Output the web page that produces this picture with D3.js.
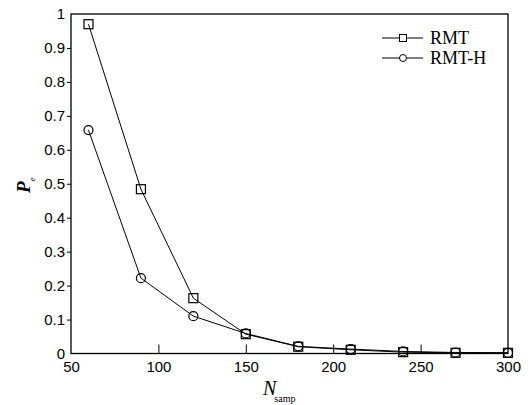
<!DOCTYPE html>
<html>
<head>
<meta charset="utf-8">
<script src="https://cdn.jsdelivr.net/npm/d3@7"></script>
<style>
  body { margin: 0; background: #fff; }
  svg { display: block; }
</style>
</head>
<body>
<div id="chart"></div>
<script>
// sample sizes on x axis
var nSamp = [60, 90, 120, 150, 180, 210, 240, 270, 300];
// error probability for each method
var rmt  = [0.970, 0.484, 0.163, 0.057, 0.020, 0.011, 0.004, 0.002, 0.002];
var rmtH = [0.658, 0.222, 0.110, 0.059, 0.021, 0.013, 0.006, 0.003, 0.002];
var seriesNames = ["RMT", "RMT-H"];
var xTicks = [50, 100, 150, 200, 250, 300];
var yTicks = [0, 0.1, 0.2, 0.3, 0.4, 0.5, 0.6, 0.7, 0.8, 0.9, 1];

var width = 530, height = 405;
var margin = {top: 14, right: 22, bottom: 51.5, left: 71};
var w = width - margin.left - margin.right;
var h = height - margin.top - margin.bottom;

var svg = d3.select("#chart").append("svg")
    .attr("width", width)
    .attr("height", height);

var g = svg.append("g")
    .attr("transform", "translate(" + margin.left + "," + margin.top + ")");

var x = d3.scaleLinear().domain([50, 300]).range([0, w]);
var y = d3.scaleLinear().domain([0, 1]).range([h, 0]);

// frame
g.append("rect")
    .attr("width", w)
    .attr("height", h)
    .style("fill", "none")
    .style("stroke", "#000")
    .style("stroke-width", 1.3);

// x axis, ticks pointing inward
var xAxis = g.append("g")
    .attr("transform", "translate(0," + h + ")")
    .call(d3.axisBottom(x).tickValues(xTicks).tickSizeInner(-9).tickSizeOuter(0).tickPadding(8).tickFormat(d3.format("d")));
xAxis.select(".domain").remove();
xAxis.selectAll(".tick").filter(function(d) { return d === 50 || d === 300; }).select("line").remove();
xAxis.selectAll("text")
    .style("font-family", "Liberation Sans, Arial, sans-serif")
    .style("font-size", "15px")
    .attr("y", 8);

// y axis, ticks pointing outward
var yAxis = g.append("g")
    .call(d3.axisLeft(y).tickValues(yTicks).tickSizeInner(4).tickSizeOuter(0).tickPadding(2).tickFormat(function(d) { return d3.format("")(+d.toFixed(1)); }));
yAxis.select(".domain").remove();
yAxis.selectAll(".tick").filter(function(d) { return d === 0 || d === 1; }).select("line").remove();
yAxis.selectAll("text")
    .style("font-family", "Liberation Sans, Arial, sans-serif")
    .style("font-size", "15px");

// series
var series = [
    {name: seriesNames[0], values: rmt, marker: "square"},
    {name: seriesNames[1], values: rmtH, marker: "circle"}
];

var line = d3.line()
    .x(function(d, i) { return x(nSamp[i]); })
    .y(function(d) { return y(d); });

series.forEach(function(s) {
    g.append("path")
        .attr("d", line(s.values))
        .style("fill", "none")
        .style("stroke", "#000")
        .style("stroke-width", 1);

    s.values.forEach(function(v, i) {
        if (s.marker === "square") {
            g.append("rect")
                .attr("x", x(nSamp[i]) - 4.5)
                .attr("y", y(v) - 4.5)
                .attr("width", 9)
                .attr("height", 9)
                .style("fill", "none")
                .style("stroke", "#000")
                .style("stroke-width", 1.2);
        } else {
            g.append("circle")
                .attr("cx", x(nSamp[i]))
                .attr("cy", y(v))
                .attr("r", 4.5)
                .style("fill", "none")
                .style("stroke", "#000")
                .style("stroke-width", 1.2);
        }
    });
});

// legend
var legend = svg.selectAll(".legend")
    .data(series)
    .enter().append("g")
    .attr("class", "legend")
    .attr("transform", function(d, i) { return "translate(382," + (38 + i * 20) + ")"; });

legend.append("line")
    .attr("x1", 0).attr("x2", 41)
    .style("stroke", "#000")
    .style("stroke-width", 1);

legend.each(function(d) {
    var lg = d3.select(this);
    if (d.marker === "square") {
        lg.append("rect").attr("x", 17.5).attr("y", -3.5).attr("width", 7).attr("height", 7)
            .style("fill", "#fff").style("stroke", "#000");
    } else {
        lg.append("circle").attr("cx", 21).attr("cy", 0).attr("r", 3.5)
            .style("fill", "#fff").style("stroke", "#000");
    }
});

legend.append("text")
    .attr("x", 48)
    .attr("y", 6)
    .style("font-family", "Liberation Serif, Times New Roman, serif")
    .style("font-size", "18px")
    .text(function(d) { return d.name; });

// axis titles
var xTitle = svg.append("text")
    .attr("x", 263)
    .attr("y", 395)
    .style("font-family", "Liberation Serif, Times New Roman, serif");
xTitle.append("tspan").style("font-style", "italic").style("font-size", "20px").text("N");
xTitle.append("tspan").attr("dy", 7).attr("dx", -2).style("font-size", "10px").text("samp");

var yTitle = svg.append("text")
    .attr("transform", "translate(30,193) rotate(-90)")
    .style("font-family", "Liberation Serif, Times New Roman, serif");
yTitle.append("tspan").style("font-style", "italic").style("font-weight", "bold").style("font-size", "19px").text("P");
yTitle.append("tspan").attr("dy", 5).style("font-style", "italic").style("font-size", "9px").text("e");
</script>
</body>
</html>
